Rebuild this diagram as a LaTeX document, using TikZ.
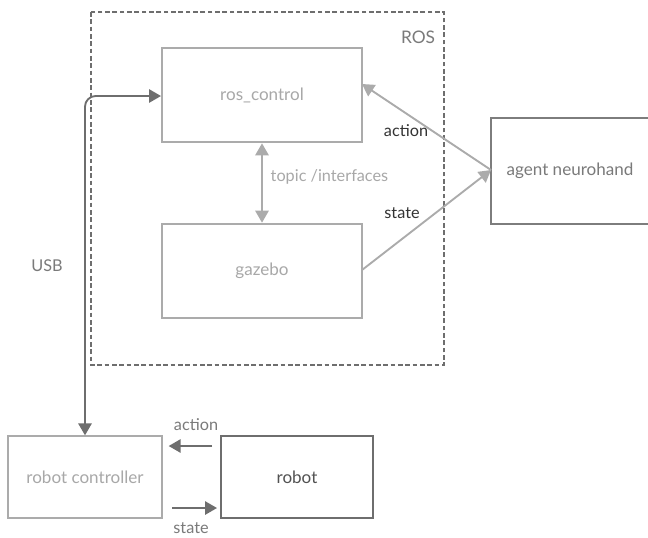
\documentclass[tikz,border=0pt]{standalone}
\usepackage{fontspec}
\setmainfont{Lato}
\usetikzlibrary{arrows.meta}
\definecolor{lightbox}{HTML}{ABABAB}
\definecolor{darkbox}{HTML}{6E6E6E}
\definecolor{lighttext}{HTML}{A8A8A8}
\definecolor{midtext}{HTML}{7A7A7A}
\definecolor{darktext}{HTML}{333333}
\tikzset{
  px/.style={x=0.75pt,y=-0.75pt},
  lbox/.style={draw=lightbox,line width=1.5pt,fill=white,text=lighttext,font=\fontsize{12.8}{15}\selectfont},
  dbox/.style={draw=darkbox,line width=1.5pt,fill=white,text=darktext!80,font=\fontsize{12.8}{15}\selectfont},
  larrow/.style={draw=lightbox,line width=1.4pt,-{Triangle[length=9pt,width=10pt]}},
  darrow/.style={draw=darkbox,line width=1.4pt,-{Triangle[length=9pt,width=10pt]}},
  lbl/.style={font=\fontsize{12.2}{14}\selectfont},
}
\begin{document}
\begin{tikzpicture}[px]
\useasboundingbox (0,0) rectangle (648,537);
\clip (0,0) rectangle (648,537);
\fill[white] (0,0) rectangle (648,537);
% ROS container
\draw[darkbox,line width=1.2pt,dash pattern=on 3.5pt off 2pt] (91,12) rectangle (444,365);
\node[text=midtext,font=\fontsize{13}{15}\selectfont] (roslbl) at (418,37) {ROS};
% boxes
\node[lbox,minimum width=150pt,minimum height=71pt] (rc) at (262,95) {ros\_control};
\node[lbox,minimum width=150pt,minimum height=71pt] (gz) at (262,271) {gazebo};
\node[dbox,draw=darkbox!90,text=midtext,minimum width=118pt,minimum height=80pt] (agent) at (570,171) {agent neurohand};
\node[lbox,minimum width=115pt,minimum height=61pt] (ctrl) at (85,477) {robot controller};
\node[dbox,text=darktext!85,minimum width=114pt,minimum height=61pt] (robot) at (297,477) {robot};
% coordinates
\coordinate (rcR) at (362,84);
\coordinate (agL) at (491,170);
\coordinate (gzR) at (362,270);
\coordinate (usbTop) at (85,96);
\coordinate (rcL) at (162,96);
% topic / interfaces
\draw[larrow,{Triangle[length=9pt,width=10pt]}-{Triangle[length=9pt,width=10pt]}] (rc.south) -- (gz.north);
\node[lbl,text=lighttext,anchor=west] (topic) at (266,177) {topic /interfaces};
% action / state to agent
\draw[larrow] (agL) -- (rcR);
\draw[larrow] (gzR) -- (agL);
\node[lbl,text=darktext] (act1) at (406,131) {action};
\node[lbl,text=darktext] (st1) at (402,213) {state};
% USB
\draw[darrow,{Triangle[length=9pt,width=10pt]}-{Triangle[length=9pt,width=10pt]},rounded corners=8pt] (ctrl.north) -- (usbTop) -- (rc.west |- rcL);
\node[lbl,text=midtext] (usb) at (47,266) {USB};
% bottom arrows
\coordinate (a2s) at (212,446);
\coordinate (a2e) at (162,446);
\coordinate (s2s) at (172,508);
\coordinate (s2e) at (221,508);
\draw[darrow,shorten >=5pt] (a2s) -- (a2e);
\draw[darrow,shorten >=3pt] (s2s) -- (s2e);
\node[lbl,text=midtext] (act2) at (196,425) {action};
\node[lbl,text=midtext] (st2) at (191,528) {state};
\end{tikzpicture}
\end{document}
